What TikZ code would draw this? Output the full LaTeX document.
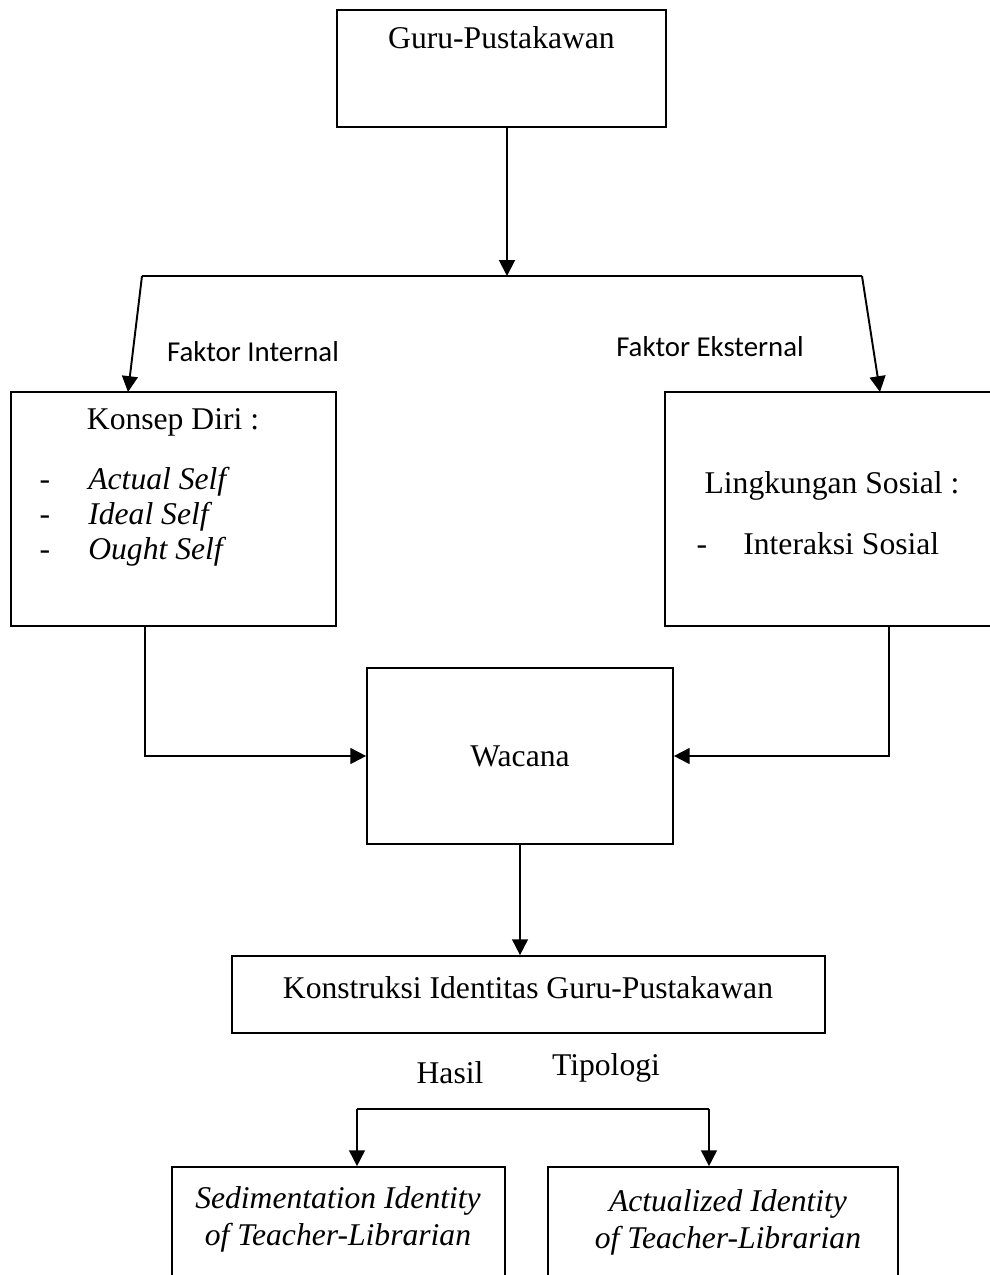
\documentclass[tikz,border=0pt]{standalone}
\usepackage{fontspec}
\setmainfont{Liberation Serif}
\newfontfamily\labelfont{Carlito}
\usepackage{xcolor}
\usetikzlibrary{arrows.meta}
\tikzset{
    box/.style={rectangle, draw=black, line width=1pt, fill=white, inner sep=0pt, text centered, font=\fontsize{18}{21}\selectfont},
    txt/.style={inner sep=0pt, font=\fontsize{18}{21}\selectfont},
    dashtxt/.style={inner sep=0pt, anchor=base, font=\fontsize{18}{21}\selectfont},
    itemtxt/.style={inner sep=0pt, anchor=base west, font=\fontsize{18}{21}\selectfont\itshape},
    idtxt/.style={inner sep=0pt, align=center, font=\fontsize{18}{21}\selectfont\itshape},
    factor/.style={inner sep=0pt, font=\fontsize{16.4}{20}\labelfont},
    line/.style={line width=1.1pt, color=black},
    arrow/.style={line width=1.1pt, -{Triangle[length=9pt, width=9pt]}, color=black}
}

\begin{document}
\begin{tikzpicture}[x=0.02cm, y=-0.02cm]
    \useasboundingbox (0,0) rectangle (990,1275);
    \clip (0,0) rectangle (990,1275);

    % Nodes
    \node (guru) [box, minimum width=6.58cm, minimum height=2.34cm] at (501.5,68.5) {};
    \node (gurutext) [txt] at (501.5,38) {Guru-Pustakawan};

    \node (konsep) [box, minimum width=6.5cm, minimum height=4.68cm] at (173.5,509) {};
    \node (konseptext) [txt] at (173,422) {Konsep Diri :};
    \node (dash1) [dashtxt] at (45,489) {-};
    \node (dash2) [dashtxt] at (45,524) {-};
    \node (dash3) [dashtxt] at (45,559) {-};
    \node (actual) [itemtxt] at (88,489) {Actual Self};
    \node (ideal) [itemtxt] at (88,524) {Ideal Self};
    \node (ought) [itemtxt] at (88,559) {Ought Self};

    \node (lingkungan) [box, minimum width=6.9cm, minimum height=4.68cm] at (837.5,509) {};
    \node (lingkungantext) [txt] at (832,486) {Lingkungan Sosial :};
    \node (dash4) [dashtxt] at (702,554) {-};
    \node (interaksi) [txt, anchor=base west] at (743,554) {Interaksi Sosial};

    \node (wacana) [box, minimum width=6.12cm, minimum height=3.52cm] at (520,756) {Wacana};
    \node (konstruksi) [box, minimum width=11.86cm, minimum height=1.54cm] at (528.5,994.5) {};
    \node (konstruksitext) [txt] at (528,988) {Konstruksi Identitas Guru-Pustakawan};

    \node (sediment) [box, minimum width=6.66cm, minimum height=2.66cm] at (338.5,1233.5) {};
    \node (sedimenttext) [idtxt] at (338,1219) {Sedimentation Identity\\of Teacher-Librarian};
    \node (actualized) [box, minimum width=7cm, minimum height=2.66cm] at (723,1233.5) {};
    \node (actualizedtext) [idtxt] at (728,1222) {Actualized Identity\\of Teacher-Librarian};

    % Labels
    \node (internal) [factor] at (253,352) {Faktor Internal};
    \node (eksternal) [factor] at (710,347) {Faktor Eksternal};
    \node (hasil) [txt] at (450,1073) {Hasil};
    \node (tipologi) [txt] at (606,1068) {Tipologi};

    % Split points
    \coordinate (mid) at (507,276);
    \coordinate (lsplit) at (142,276);
    \coordinate (rsplit) at (862,276);
    \coordinate (lin) at (128,392);
    \coordinate (rin) at (880,392);
    \coordinate (lfeed) at (145,0);
    \coordinate (rfeed) at (889,0);
    \coordinate (bl) at (357,1109);
    \coordinate (br) at (709,1109);

    % Arrows
    \draw [arrow] (guru.south -| mid) -- (mid);
    \draw [line] (lsplit) -- (rsplit);
    \draw [arrow] (lsplit) -- (lin);
    \draw [arrow] (rsplit) -- (rin);
    \draw [arrow] (konsep.south -| lfeed) |- (wacana.west);
    \draw [arrow] (lingkungan.south -| rfeed) |- (wacana.east);
    \draw [arrow] (wacana.south) -- (wacana.south |- konstruksi.north);
    \draw [line] (bl) -- (br);
    \draw [arrow] (bl) -- (bl |- sediment.north);
    \draw [arrow] (br) -- (br |- actualized.north);
\end{tikzpicture}
\end{document}
